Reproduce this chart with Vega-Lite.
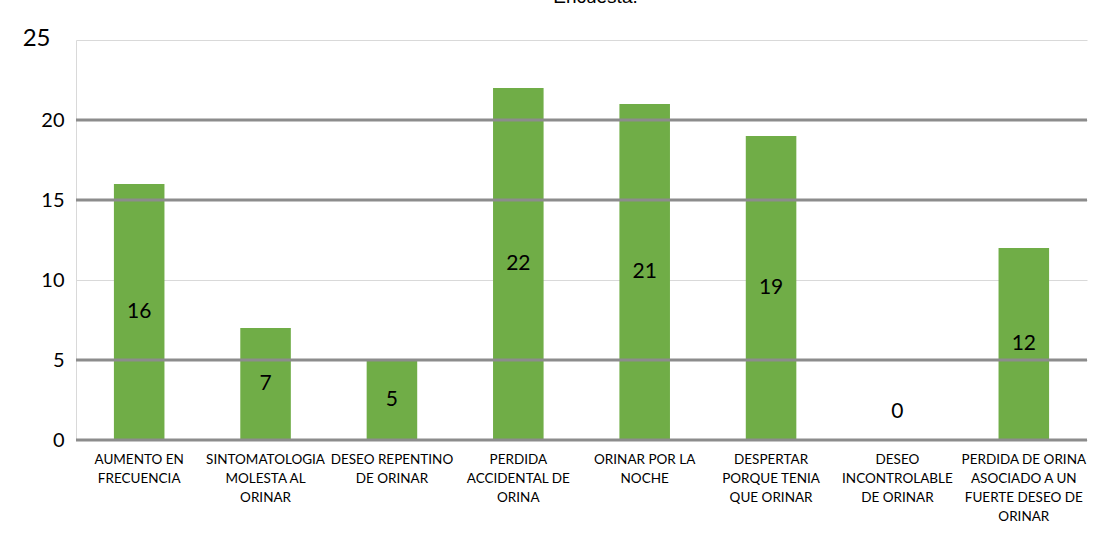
{
  "$schema": "https://vega.github.io/schema/vega-lite/v6.json",
  "width": 1011,
  "height": 400,
  "autosize": {"type": "none"},
  "padding": {"left": 76, "top": 40, "right": 20, "bottom": 97},
  "background": "white",
  "title": {"text": "Encuesta.", "fontSize": 19, "font": "Liberation Sans", "fontWeight": "normal", "color": "#000000", "baseline": "bottom", "offset": 0, "dx": 14, "anchor": "middle"},
  "config": {"view": {"stroke": null}},
  "datasets": {
    "bars": [
      {"categoria": "AUMENTO EN|FRECUENCIA", "valor": 16},
      {"categoria": "SINTOMATOLOGIA|MOLESTA AL|ORINAR", "valor": 7},
      {"categoria": "DESEO REPENTINO|DE ORINAR", "valor": 5},
      {"categoria": "PERDIDA|ACCIDENTAL DE|ORINA", "valor": 22},
      {"categoria": "ORINAR POR LA|NOCHE", "valor": 21},
      {"categoria": "DESPERTAR|PORQUE TENIA|QUE ORINAR", "valor": 19},
      {"categoria": "DESEO|INCONTROLABLE|DE ORINAR", "valor": 0},
      {"categoria": "PERDIDA DE ORINA|ASOCIADO A UN|FUERTE DESEO DE|ORINAR", "valor": 12}
    ],
    "lineas": [{"v": 0}, {"v": 5}, {"v": 15}, {"v": 20}]
  },
  "layer": [
    {
      "data": {"name": "bars"},
      "mark": {"type": "bar", "color": "#70AD47"},
      "encoding": {
        "x": {
          "field": "categoria", "type": "nominal", "sort": null,
          "scale": {"paddingInner": 0.6, "paddingOuter": 0.3},
          "axis": {
            "title": null, "labelAngle": 0, "ticks": false, "domain": false,
            "labelExpr": "split(datum.label, '|')",
            "labelFont": "Lato", "labelFontSize": 13.5, "labelColor": "#000000",
            "labelLineHeight": 19, "labelPadding": 12, "labelBaseline": "top",
            "labelLimit": 200
          }
        },
        "y": {
          "field": "valor", "type": "quantitative",
          "scale": {"domain": [0, 25], "nice": false, "zero": true},
          "axis": {
            "title": null, "values": [0, 5, 10, 15, 20, 25], "ticks": false,
            "domain": true, "domainColor": "#D9D9D9", "domainWidth": 1,
            "grid": true, "gridColor": "#D9D9D9", "gridWidth": 1,
            "labelFont": "Lato", "labelColor": "#000000",
            "labelFontSize": {"condition": {"test": "datum.value == 25", "value": 24}, "value": 20},
            "labelPadding": {"condition": {"test": "datum.value == 25", "value": 26}, "value": 12},
            "labelOffset": {"condition": {"test": "datum.value == 25", "value": -2}, "value": 0}
          }
        }
      }
    },
    {
      "data": {"name": "lineas"},
      "mark": {"type": "rule", "color": "#8C8C8C", "strokeWidth": 3},
      "encoding": {"y": {"field": "v", "type": "quantitative"}}
    },
    {
      "data": {"name": "bars"},
      "transform": [{"filter": "datum.valor > 0"}, {"calculate": "datum.valor / 2", "as": "mitad"}],
      "mark": {"type": "text", "font": "Lato", "fontSize": 21, "color": "#000000"},
      "encoding": {
        "x": {"field": "categoria", "type": "nominal", "sort": null},
        "y": {"field": "mitad", "type": "quantitative"},
        "text": {"field": "valor", "type": "quantitative"}
      }
    },
    {
      "data": {"name": "bars"},
      "transform": [{"filter": "datum.valor == 0"}],
      "mark": {"type": "text", "font": "Lato", "fontSize": 21, "color": "#000000", "dy": -28},
      "encoding": {
        "x": {"field": "categoria", "type": "nominal", "sort": null},
        "y": {"field": "valor", "type": "quantitative"},
        "text": {"field": "valor", "type": "quantitative"}
      }
    }
  ]
}
